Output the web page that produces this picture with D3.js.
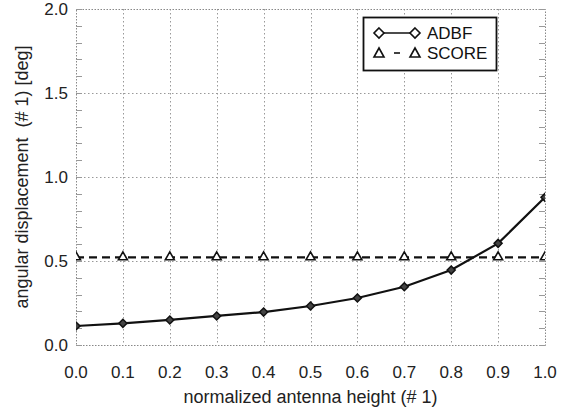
<!DOCTYPE html>
<html>
<head>
<meta charset="utf-8">
<script src="https://cdn.jsdelivr.net/npm/d3@7"></script>
<style>
  body { margin: 0; background: #fff; }
  svg { display: block; font-family: "Liberation Sans", Arial, sans-serif; }
</style>
</head>
<body>
<svg width="565" height="410"></svg>
<script>
// data ====================================================
var heights = [0.0, 0.1, 0.2, 0.3, 0.4, 0.5, 0.6, 0.7, 0.8, 0.9, 1.0];
var adbf = [0.113, 0.129, 0.149, 0.173, 0.196, 0.232, 0.280, 0.347, 0.446, 0.605, 0.879];
var score = [0.522, 0.522, 0.522, 0.522, 0.522, 0.522, 0.522, 0.522, 0.522, 0.522, 0.522];
var xTicks = [0.0, 0.1, 0.2, 0.3, 0.4, 0.5, 0.6, 0.7, 0.8, 0.9, 1.0];
var yTicks = [0.0, 0.5, 1.0, 1.5, 2.0];
var yMinor = d3.range(0, 2.0001, 0.1);

// layout ==================================================
var svg = d3.select("svg");
var m = { left: 76, right: 545, top: 9, bottom: 345 };

var x = d3.scaleLinear().domain([0, 1]).range([m.left, m.right]);
var y = d3.scaleLinear().domain([0, 2]).range([m.bottom, m.top]);

svg.append("defs").append("clipPath").attr("id", "plot")
  .append("rect")
  .attr("x", m.left).attr("y", m.top)
  .attr("width", m.right - m.left).attr("height", m.bottom - m.top);

// grid
var grid = svg.append("g").attr("stroke", "#999").attr("stroke-width", 1)
  .attr("stroke-dasharray", "1.5,2.5");
grid.selectAll(".gx").data(xTicks.slice(1, -1)).enter().append("line")
  .attr("x1", function(d) { return Math.round(x(d)) + 0.5; })
  .attr("x2", function(d) { return Math.round(x(d)) + 0.5; })
  .attr("y1", m.top).attr("y2", m.bottom);
grid.selectAll(".gy").data(yTicks.slice(1, -1)).enter().append("line")
  .attr("y1", function(d) { return Math.round(y(d)) + 0.5; })
  .attr("y2", function(d) { return Math.round(y(d)) + 0.5; })
  .attr("x1", m.left).attr("x2", m.right);

// frame (dotted like the grid)
svg.append("rect")
  .attr("x", m.left + 0.5).attr("y", m.top + 0.5)
  .attr("width", m.right - m.left).attr("height", m.bottom - m.top)
  .attr("fill", "none").attr("stroke", "#888").attr("stroke-dasharray", "1.5,1.5");

// minor ticks on left and right, inward
var ticks = svg.append("g").attr("stroke", "#999").attr("stroke-width", 1);
ticks.selectAll(".tl").data(yMinor).enter().append("line")
  .attr("x1", m.left).attr("x2", m.left + 6)
  .attr("y1", function(d) { return Math.round(y(d)) + 0.5; })
  .attr("y2", function(d) { return Math.round(y(d)) + 0.5; });
ticks.selectAll(".tr").data(yMinor).enter().append("line")
  .attr("x1", m.right - 6).attr("x2", m.right)
  .attr("y1", function(d) { return Math.round(y(d)) + 0.5; })
  .attr("y2", function(d) { return Math.round(y(d)) + 0.5; });

// tick labels
svg.append("g").selectAll("text").data(yTicks).enter().append("text")
  .attr("x", 68).attr("y", function(d) { return y(d) + 6; })
  .attr("text-anchor", "end").attr("font-size", 17).attr("fill", "#222")
  .text(function(d) { return d.toFixed(1); });
svg.append("g").selectAll("text").data(xTicks).enter().append("text")
  .attr("x", function(d) { return x(d); }).attr("y", 378)
  .attr("text-anchor", "middle").attr("font-size", 17).attr("fill", "#222")
  .text(function(d) { return d.toFixed(1); });

// axis titles
svg.append("text")
  .attr("x", x(0.5)).attr("y", 403)
  .attr("text-anchor", "middle").attr("font-size", 18).attr("fill", "#222")
  .text("normalized antenna height (# 1)");
svg.append("text")
  .attr("transform", "translate(28," + y(1) + ") rotate(-90)")
  .attr("text-anchor", "middle").attr("font-size", 18).attr("fill", "#222")
  .attr("xml:space", "preserve").style("white-space", "pre")
  .text("angular displacement  (# 1) [deg]");

// markers
function diamondPath(r) {
  return "M0," + (-r) + "L" + r + ",0L0," + r + "L" + (-r) + ",0Z";
}
function trianglePath(w, h) {
  return "M0," + (-h / 2 - 1) + "L" + w + "," + (h / 2) + "L" + (-w) + "," + (h / 2) + "Z";
}

// series
var plot = svg.append("g").attr("clip-path", "url(#plot)");
var line = d3.line().x(function(d) { return x(d[0]); }).y(function(d) { return y(d[1]); });
var adbfPts = heights.map(function(h, i) { return [h, adbf[i]]; });
var scorePts = heights.map(function(h, i) { return [h, score[i]]; });

plot.append("path").datum(scorePts).attr("d", line)
  .attr("fill", "none").attr("stroke", "#111").attr("stroke-width", 2.2)
  .attr("stroke-dasharray", "8,5");
plot.append("path").datum(adbfPts).attr("d", line)
  .attr("fill", "none").attr("stroke", "#111").attr("stroke-width", 2.2);

plot.selectAll(".dm").data(adbfPts).enter().append("path")
  .attr("d", diamondPath(4))
  .attr("transform", function(d) { return "translate(" + x(d[0]) + "," + y(d[1]) + ")"; })
  .attr("fill", "#444").attr("stroke", "#111").attr("stroke-width", 1.5);
plot.selectAll(".tri").data(scorePts).enter().append("path")
  .attr("d", trianglePath(4.5, 7))
  .attr("transform", function(d) { return "translate(" + x(d[0]) + "," + (y(d[1]) - 1) + ")"; })
  .attr("fill", "#fff").attr("stroke", "#111").attr("stroke-width", 1.6);

// legend
var lg = svg.append("g");
lg.append("rect").attr("x", 363.5).attr("y", 17.5).attr("width", 133).attr("height", 53)
  .attr("fill", "#fff").attr("stroke", "#111").attr("stroke-width", 1.8);
lg.append("line").attr("x1", 379).attr("x2", 415).attr("y1", 33).attr("y2", 33)
  .attr("stroke", "#111").attr("stroke-width", 1.6);
lg.append("line").attr("x1", 394).attr("x2", 400).attr("y1", 53).attr("y2", 53)
  .attr("stroke", "#111").attr("stroke-width", 1.6);
[379, 415].forEach(function(px) {
  lg.append("path").attr("d", diamondPath(5)).attr("transform", "translate(" + px + ",33)")
    .attr("fill", "#fff").attr("stroke", "#111").attr("stroke-width", 1.6);
  lg.append("path").attr("d", trianglePath(5, 8)).attr("transform", "translate(" + px + ",53)")
    .attr("fill", "#fff").attr("stroke", "#111").attr("stroke-width", 1.6);
});
lg.append("text").attr("x", 427).attr("y", 39).attr("font-size", 17).attr("fill", "#111").text("ADBF");
lg.append("text").attr("x", 427).attr("y", 59).attr("font-size", 17).attr("fill", "#111").text("SCORE");
</script>
</body>
</html>
